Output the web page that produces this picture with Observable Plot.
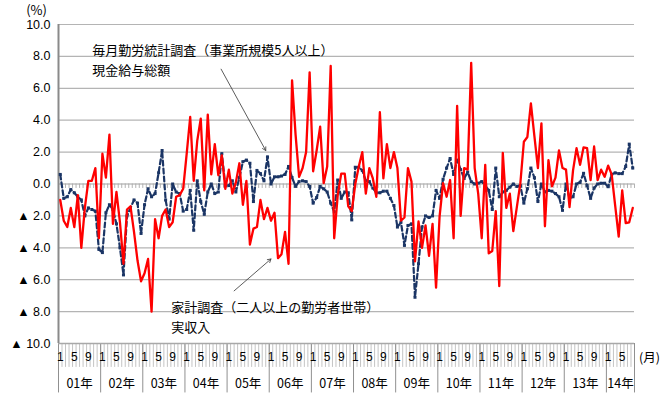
<!DOCTYPE html>
<html>
<head>
<meta charset="utf-8">
<script src="https://cdn.jsdelivr.net/npm/d3@7"></script>
<script src="https://cdn.jsdelivr.net/npm/@observablehq/plot@0.6"></script>
<style>
  body { margin: 0; background: #fff; }
  #chart svg { display: block; }
</style>
</head>
<body>
<div id="chart"></div>
<script>
// 毎月勤労統計調査（事業所規模5人以上）現金給与総額, 2001-01 .. 2014-08, 前年同月比 (%)
const blue = [
  0.6,-0.9,-0.8,-0.35,-0.55,-0.8,-1.0,-2.0,-1.5,-1.6,
  -1.7,-4.1,-4.3,-1.8,-1.3,-1.6,-2.5,-4.0,-5.7,-2.0,
  -1.5,-1.0,-1.2,-3.1,-1.3,-0.3,-0.8,-0.6,0.7,2.1,
  -1.0,-2.2,0.0,-0.5,-0.6,-1.7,-1.6,-0.4,-2.9,0.2,
  -1.1,-1.9,-0.5,0.0,-0.6,-0.5,1.9,-0.1,-0.1,0.2,
  -0.5,0.4,1.4,1.5,1.3,-1.1,0.85,0.65,0.2,1.7,
  0.0,0.45,0.45,0.5,0.6,1.1,0.4,-0.15,0.15,0.2,
  0.15,-0.15,-1.2,-0.85,-0.15,-0.3,-0.5,-1.2,-1.75,0.25,
  -0.9,-0.5,-0.55,-2.25,1.05,1.05,0.85,0.2,0.15,-0.25,
  -0.55,-0.55,-0.45,-0.45,-0.9,-1.35,-2.7,-2.4,-3.85,-2.6,
  -2.5,-7.1,-5.0,-2.7,-2.0,-2.1,-2.0,-0.4,-0.9,0.3,
  1.0,1.6,0.6,1.5,0.9,0.35,0.75,0.15,0.0,0.05,
  0.15,-0.1,-0.4,-1.6,1.0,-0.8,-0.5,-0.4,-0.2,0.0,
  -0.15,-0.1,-1.2,-0.3,1.0,0.4,-1.1,0.0,-0.5,-0.4,
  -0.45,-0.6,-0.8,-1.65,0.0,-0.9,-0.8,0.0,0.1,0.67,
  -0.1,-0.9,-0.25,0.0,0.05,0.05,-0.17,0.6,0.7,0.65,
  0.65,1.1,2.5,1.0
];
// 家計調査（二人以上の勤労者世帯）実収入
const red = [
  -1.0,-2.3,-2.7,-1.5,-2.7,-0.7,-4.0,-1.5,0.2,0.2,
  1.0,-3.4,1.9,0.4,3.1,-2.5,-0.5,-2.4,-5.0,-1.6,
  -1.4,-3.0,-4.8,-6.1,-5.6,-4.7,-8.0,-2.2,-3.4,-2.0,
  -1.6,-2.7,-2.4,-0.8,-0.7,-0.3,1.9,4.2,0.2,2.7,
  4.1,-0.4,4.35,0.6,2.5,0.55,1.8,-0.3,0.9,-0.6,
  0.1,1.3,-1.3,0.2,-3.8,-2.8,-2.7,-1.0,-2.2,-1.5,
  -2.3,-1.8,-4.65,-4.4,-3.0,-5.0,6.5,3.1,0.45,1.0,
  2.0,7.0,0.8,2.1,3.6,0.05,1.1,7.4,-3.4,-0.7,
  0.65,0.65,-1.4,-1.7,0.0,1.1,2.0,-0.6,1.0,0.35,
  -0.8,4.5,0.35,2.5,1.0,2.0,1.0,-2.3,-2.1,1.0,
  0.15,-4.85,-2.35,-4.0,-2.6,-4.5,-2.5,-6.5,-2.05,0.05,
  -0.8,0.25,-3.4,4.9,-2.0,1.0,0.9,7.6,1.0,-0.6,
  -3.4,1.2,-4.35,-4.2,-1.7,-6.4,1.95,-1.5,-0.6,-2.95,
  -1.45,0.05,2.65,2.95,5.05,3.0,1.0,3.8,-2.65,1.5,
  -0.15,0.4,2.1,1.0,0.9,-1.45,0.85,2.25,1.2,2.3,
  2.25,0.25,2.35,0.25,0.9,0.45,1.15,0.6,-1.35,-3.3,
  -0.4,-2.45,-2.4,-1.5
];
const yearLabels = ["01年","02年","03年","04年","05年","06年","07年","08年","09年","10年","11年","12年","13年","14年"];
const monthTickLabels = [1, 5, 9];
const yTicks = [-10,-8,-6,-4,-2,0,2,4,6,8,10];
const labelBlue = "毎月勤労統計調査（事業所規模5人以上）\n現金給与総額";
const labelRed = "家計調査（二人以上の勤労者世帯）\n実収入";
// annotation anchors (month index, %)
const notes = [
  {x: 9.6, y: 9.0, text: labelBlue},
  {x: 32.1, y: -7.1, text: labelRed}
];
const arrows = [
  {x1: 46.3, y1: 7.2, x2: 59.0, y2: 2.1},
  {x1: 50.0, y1: -6.7, x2: 60.5, y2: -4.7}
];
// extent of the category-axis tick lines below the frame, in % units
const monthTickEnd = -11.5;
const yearTickEnd = -13.1;

const nMonths = blue.length;
const blueData = blue.map((v, i) => ({i: i + 0.5, v}));
const redData = red.map((v, i) => ({i: i + 0.5, v}));
const monthBounds = d3.range(0, nMonths + 1);
const yearBounds = d3.range(0, nMonths, 12).concat([nMonths]);
const monthLabels = [];
for (let i = 0; i < nMonths; i++) {
  const m = i % 12 + 1;
  if (monthTickLabels.includes(m)) monthLabels.push({x: i + 0.5, text: String(m)});
}
const years = yearLabels.map((t, k) => ({x: (k * 12 + Math.min(k * 12 + 12, nMonths)) / 2, text: t}));
const fmtY = d => d < 0 ? "▲ " + Math.abs(d).toFixed(1) : d.toFixed(1);

const font = "'Liberation Sans', 'Noto Sans CJK JP', sans-serif";
const cjk = "'Noto Sans CJK JP', sans-serif";

const chart = Plot.plot({
  width: 665,
  height: 400,
  marginLeft: 58,
  marginRight: 31,
  marginTop: 24,
  marginBottom: 57,
  style: {fontFamily: font, fontSize: "12px", background: "#fff", color: "#000", overflow: "visible"},
  x: {domain: [0, nMonths], axis: null},
  y: {domain: [-10, 10], axis: null},
  marks: [
    Plot.ruleY(yTicks.filter(d => d !== 0 && d !== -10), {stroke: "#b4b4b4", strokeWidth: 1.2}),
    Plot.ruleY([0], {stroke: "#a0a0a0", strokeWidth: 1.2}),
    Plot.ruleX(monthBounds, {x: d => d, y1: 0, y2: -0.28, stroke: "#aaa", strokeWidth: 0.9}),
    Plot.ruleX(monthBounds, {x: d => d, y1: -10, y2: monthTickEnd, stroke: "#c4c4c4", strokeWidth: 1}),
    Plot.ruleX(yearBounds, {x: d => d, y1: -10, y2: yearTickEnd, stroke: "#909090", strokeWidth: 1}),
    Plot.ruleY([-10], {stroke: "#a8a8a8", strokeWidth: 1.5}),
    Plot.ruleX([0], {stroke: "#8a8a8a", strokeWidth: 2}),
    Plot.axisY(yTicks, {tickSize: 0, tickPadding: 8, tickFormat: fmtY, fontSize: 12.5}),
    Plot.text(["(%)"], {frameAnchor: "top-left", textAnchor: "middle", lineAnchor: "middle", dx: -22, dy: -14, fontSize: 13, fontFamily: cjk}),
    Plot.text(monthLabels, {x: "x", text: "text", frameAnchor: "bottom", lineAnchor: "middle", dy: 14, fontSize: 12}),
    Plot.text(years, {x: "x", text: "text", frameAnchor: "bottom", lineAnchor: "middle", dy: 40, fontSize: 12.5, fontFamily: cjk}),
    Plot.text(["(月)"], {frameAnchor: "bottom-right", textAnchor: "middle", lineAnchor: "middle", dx: 15, dy: 14, fontSize: 12.5, fontFamily: cjk}),
    Plot.line(blueData, {x: "i", y: "v", stroke: "#1b3565", strokeWidth: 2.2, strokeDasharray: "5,3"}),
    Plot.dot(blueData, {x: "i", y: "v", symbol: "square", r: 1.7, fill: "#1b3565", stroke: null}),
    Plot.line(redData, {x: "i", y: "v", stroke: "#ff0000", strokeWidth: 2.3}),
    Plot.arrow(arrows, {x1: "x1", y1: "y1", x2: "x2", y2: "y2", stroke: "#333", strokeWidth: 0.8, headLength: 7}),
    Plot.text(notes, {x: "x", y: "y", text: "text", textAnchor: "start", lineAnchor: "top", lineHeight: 1.55, fontSize: 13, fontFamily: cjk, fill: "#000"})
  ]
});
document.getElementById("chart").appendChild(chart);
</script>
</body>
</html>
